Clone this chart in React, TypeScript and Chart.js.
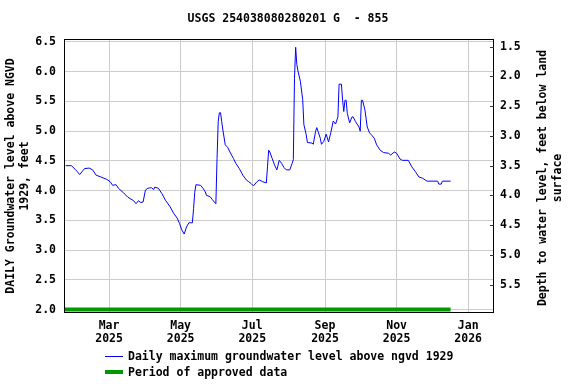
import React, { useEffect, useRef } from "react";
import { Chart, registerables } from "chart.js";

Chart.register(...registerables);

const TITLE = "USGS 254038080280201 G  - 855";
const LEFT_TITLE = ["DAILY Groundwater level above NGVD", "1929, feet"];
const RIGHT_TITLE = ["Depth to water level, feet below land", "surface"];
const SERIES_LABEL = "Daily maximum groundwater level above ngvd 1929";
const APPROVED_LABEL = "Period of approved data";

const dates = [
  "2025-01-23", "2025-01-28", "2025-01-31", "2025-02-02", "2025-02-04", "2025-02-06", "2025-02-08", "2025-02-12",
  "2025-02-15", "2025-02-18", "2025-02-22", "2025-02-27", "2025-03-02", "2025-03-04", "2025-03-07", "2025-03-09",
  "2025-03-13", "2025-03-17", "2025-03-22", "2025-03-24", "2025-03-26", "2025-03-28", "2025-03-30", "2025-04-01",
  "2025-04-03", "2025-04-06", "2025-04-08", "2025-04-09", "2025-04-12", "2025-04-15", "2025-04-18", "2025-04-22",
  "2025-04-25", "2025-04-28", "2025-04-30", "2025-05-02", "2025-05-04", "2025-05-06", "2025-05-08", "2025-05-11",
  "2025-05-12", "2025-05-13", "2025-05-14", "2025-05-18", "2025-05-20", "2025-05-22", "2025-05-23", "2025-05-26",
  "2025-05-28", "2025-05-31", "2025-06-01", "2025-06-02", "2025-06-03", "2025-06-04", "2025-06-05", "2025-06-06",
  "2025-06-08", "2025-06-10", "2025-06-12", "2025-06-15", "2025-06-17", "2025-06-20", "2025-06-23", "2025-06-26",
  "2025-06-28", "2025-06-30", "2025-07-02", "2025-07-05", "2025-07-07", "2025-07-10", "2025-07-13", "2025-07-14",
  "2025-07-15", "2025-07-16", "2025-07-18", "2025-07-20", "2025-07-22", "2025-07-24", "2025-07-26", "2025-07-28",
  "2025-07-30", "2025-08-02", "2025-08-04", "2025-08-05", "2025-08-06", "2025-08-07", "2025-08-08", "2025-08-09",
  "2025-08-11", "2025-08-13", "2025-08-14", "2025-08-16", "2025-08-17", "2025-08-21", "2025-08-22", "2025-08-24",
  "2025-08-25", "2025-08-26", "2025-08-28", "2025-08-29", "2025-08-31", "2025-09-02", "2025-09-04", "2025-09-06",
  "2025-09-08", "2025-09-10", "2025-09-12", "2025-09-13", "2025-09-15", "2025-09-16", "2025-09-17", "2025-09-18",
  "2025-09-19", "2025-09-20", "2025-09-22", "2025-09-24", "2025-09-25", "2025-09-27", "2025-09-30", "2025-10-01",
  "2025-10-02", "2025-10-03", "2025-10-05", "2025-10-07", "2025-10-09", "2025-10-11", "2025-10-13", "2025-10-15",
  "2025-10-18", "2025-10-21", "2025-10-25", "2025-10-27", "2025-10-30", "2025-11-01", "2025-11-04", "2025-11-06",
  "2025-11-11", "2025-11-14", "2025-11-17", "2025-11-20", "2025-11-23", "2025-11-27", "2025-12-06", "2025-12-07",
  "2025-12-09", "2025-12-10", "2025-12-17",
];

const levels = [
  4.42, 4.42, 4.36, 4.32, 4.27, 4.32, 4.37, 4.38,
  4.35, 4.26, 4.23, 4.19, 4.15, 4.09, 4.10, 4.04,
  3.97, 3.89, 3.83, 3.78, 3.83, 3.80, 3.81, 4.01,
  4.04, 4.05, 4.02, 4.06, 4.04, 3.95, 3.84, 3.73,
  3.62, 3.54, 3.45, 3.34, 3.27, 3.39, 3.46, 3.46,
  3.70, 3.97, 4.10, 4.09, 4.04, 3.98, 3.92, 3.90,
  3.85, 3.78, 4.54, 5.16, 5.31, 5.31, 5.16, 5.02,
  4.77, 4.73, 4.65, 4.54, 4.46, 4.37, 4.26, 4.18,
  4.15, 4.12, 4.08, 4.15, 4.18, 4.15, 4.13, 4.40,
  4.68, 4.65, 4.54, 4.43, 4.35, 4.51, 4.46, 4.39,
  4.35, 4.35, 4.46, 4.52, 5.89, 6.41, 6.12, 6.01,
  5.84, 5.53, 5.11, 4.94, 4.81, 4.80, 4.78, 5.00,
  5.06, 5.00, 4.88, 4.78, 4.83, 4.95, 4.82, 4.98,
  5.17, 5.12, 5.24, 5.79, 5.79, 5.52, 5.33, 5.52,
  5.52, 5.30, 5.14, 5.24, 5.24, 5.16, 5.07, 5.00,
  5.52, 5.52, 5.36, 5.07, 4.97, 4.93, 4.88, 4.77,
  4.68, 4.64, 4.63, 4.60, 4.65, 4.63, 4.53, 4.51,
  4.51, 4.40, 4.32, 4.23, 4.21, 4.16, 4.16, 4.11,
  4.11, 4.16, 4.16,
];

const approvedDates = ["2025-01-22", "2025-12-17"];
const approvedLevels = [2.0, 2.0];

const tickDates = ["2025-03-01", "2025-05-01", "2025-07-01", "2025-09-01", "2025-11-01", "2026-01-01"];
const tickMonths = ["Mar", "May", "Jul", "Sep", "Nov", "Jan"];
const tickYears = ["2025", "2025", "2025", "2025", "2025", "2026"];
const leftTicks = [2.0, 2.5, 3.0, 3.5, 4.0, 4.5, 5.0, 5.5, 6.0, 6.5];
const rightTicks = [1.5, 2.0, 2.5, 3.0, 3.5, 4.0, 4.5, 5.0, 5.5];
const LAND_SURFACE = 7.92;
const X_MIN_DATE = "2025-01-22";
const X_MAX_DATE = "2026-01-23";
const LEFT_MIN = 1.943;
const LEFT_MAX = 6.55;

const BLUE = "#0000ff";
const GREEN = "#009a00";
const FONT = "'DejaVu Sans Mono', monospace";
const FS = 11.5;

function dayOf(s: string): number {
  const [y, m, d] = s.split("-").map(Number);
  return (Date.UTC(y, m - 1, d) - Date.UTC(2025, 0, 1)) / 86400000;
}

const overlayPlugin = {
  id: "overlay",
  afterDraw(chart: any) {
    const { ctx, chartArea } = chart;
    const { left, right, top, bottom } = chartArea;
    ctx.save();
    // plot frame
    ctx.strokeStyle = "#000";
    ctx.lineWidth = 1;
    ctx.strokeRect(left + 0.5, top + 0.5, right - left - 1, bottom - top - 1);
    // inward tick marks on right axis
    const y1 = chart.scales.y1;
    ctx.strokeStyle = "#333";
    rightTicks.forEach((v) => {
      const py = Math.round(y1.getPixelForValue(v)) + 0.5;
      ctx.beginPath();
      ctx.moveTo(right - 4, py);
      ctx.lineTo(right, py);
      ctx.stroke();
    });
    // right axis title (reads bottom to top)
    ctx.fillStyle = "#000";
    ctx.font = `bold ${FS}px ${FONT}`;
    ctx.textAlign = "center";
    ctx.textBaseline = "middle";
    ctx.save();
    ctx.translate(543.5, (top + bottom) / 2 + 2);
    ctx.rotate(-Math.PI / 2);
    ctx.fillText(RIGHT_TITLE[0], 0, 0);
    ctx.fillText(RIGHT_TITLE[1], 0, 14.5);
    ctx.restore();
    // legend
    ctx.textAlign = "left";
    ctx.strokeStyle = BLUE;
    ctx.lineWidth = 1;
    ctx.beginPath();
    ctx.moveTo(105, 356.5);
    ctx.lineTo(123, 356.5);
    ctx.stroke();
    ctx.fillText(SERIES_LABEL, 128, 357);
    ctx.strokeStyle = GREEN;
    ctx.lineWidth = 4;
    ctx.beginPath();
    ctx.moveTo(105, 372);
    ctx.lineTo(123, 372);
    ctx.stroke();
    ctx.fillText(APPROVED_LABEL, 128, 373);
    ctx.restore();
  },
};

export default function App() {
  const ref = useRef<HTMLCanvasElement | null>(null);

  useEffect(() => {
    if (!ref.current) return;
    const series = dates.map((d, i) => ({ x: dayOf(d), y: levels[i] }));
    const approved = approvedDates.map((d, i) => ({ x: dayOf(d), y: approvedLevels[i] }));
    const tickVals = tickDates.map(dayOf);

    const chart = new Chart(ref.current, {
      type: "line",
      data: {
        datasets: [
          {
            label: SERIES_LABEL,
            data: series,
            borderColor: BLUE,
            borderWidth: 1,
            pointRadius: 0,
            tension: 0,
            yAxisID: "y",
          },
          {
            label: APPROVED_LABEL,
            data: approved,
            borderColor: GREEN,
            borderWidth: 4,
            pointRadius: 0,
            yAxisID: "y",
            borderCapStyle: "butt",
          },
        ],
      },
      options: {
        animation: false,
        responsive: false,
        devicePixelRatio: 1,
        layout: { padding: 0 },
        font: { family: FONT, size: FS, weight: "bold" },
        color: "#000",
        plugins: {
          legend: { display: false },
          tooltip: { enabled: false },
          title: {
            display: true,
            text: TITLE,
            color: "#000",
            font: { family: FONT, size: FS, weight: "bold" },
            padding: { top: 12.6, bottom: 12.6 },
          },
        },
        scales: {
          x: {
            type: "linear",
            min: dayOf(X_MIN_DATE) - 0.4,
            max: dayOf(X_MAX_DATE),
            afterBuildTicks: (s: any) => {
              s.ticks = tickVals.map((v) => ({ value: v }));
            },
            afterFit: (s: any) => {
              s.height = 71;
            },
            ticks: {
              autoSkip: false,
              maxRotation: 0,
              padding: 6,
              color: "#000",
              font: { family: FONT, size: FS, weight: "bold", lineHeight: 1.15 },
              callback: (v: any) => {
                const i = tickVals.indexOf(Number(v));
                return i >= 0 ? [tickMonths[i], tickYears[i]] : "";
              },
            },
            grid: { color: "#cccccc", drawTicks: false },
            border: { display: false },
          },
          y: {
            type: "linear",
            position: "left",
            min: LEFT_MIN,
            max: LEFT_MAX,
            afterBuildTicks: (s: any) => {
              s.ticks = leftTicks.map((v) => ({ value: v }));
            },
            afterFit: (s: any) => {
              s.width = 64;
            },
            ticks: {
              padding: 8,
              color: "#000",
              font: { family: FONT, size: FS, weight: "bold" },
              callback: (v: any) => Number(v).toFixed(1),
            },
            grid: { color: "#cccccc", drawTicks: false },
            border: { display: false },
            title: {
              display: true,
              text: LEFT_TITLE,
              color: "#000",
              font: { family: FONT, size: FS, weight: "bold" },
              padding: { top: 4, bottom: 0 },
            },
          },
          y1: {
            type: "linear",
            position: "right",
            reverse: true,
            min: LAND_SURFACE - LEFT_MAX,
            max: LAND_SURFACE - LEFT_MIN,
            afterBuildTicks: (s: any) => {
              s.ticks = rightTicks.map((v) => ({ value: v }));
            },
            afterFit: (s: any) => {
              s.width = 82;
            },
            ticks: {
              padding: 6,
              color: "#000",
              font: { family: FONT, size: FS, weight: "bold" },
              callback: (v: any) => Number(v).toFixed(1),
            },
            grid: { drawOnChartArea: false, drawTicks: false },
            border: { display: false },
          },
        },
      },
      plugins: [overlayPlugin],
    } as any);

    return () => chart.destroy();
  }, []);

  return (
    <div style={{ position: "absolute", left: 0, top: 0, width: 576, height: 384, background: "#fff" }}>
      <canvas ref={ref} width={576} height={384} style={{ width: 576, height: 384, display: "block" }} />
    </div>
  );
}
